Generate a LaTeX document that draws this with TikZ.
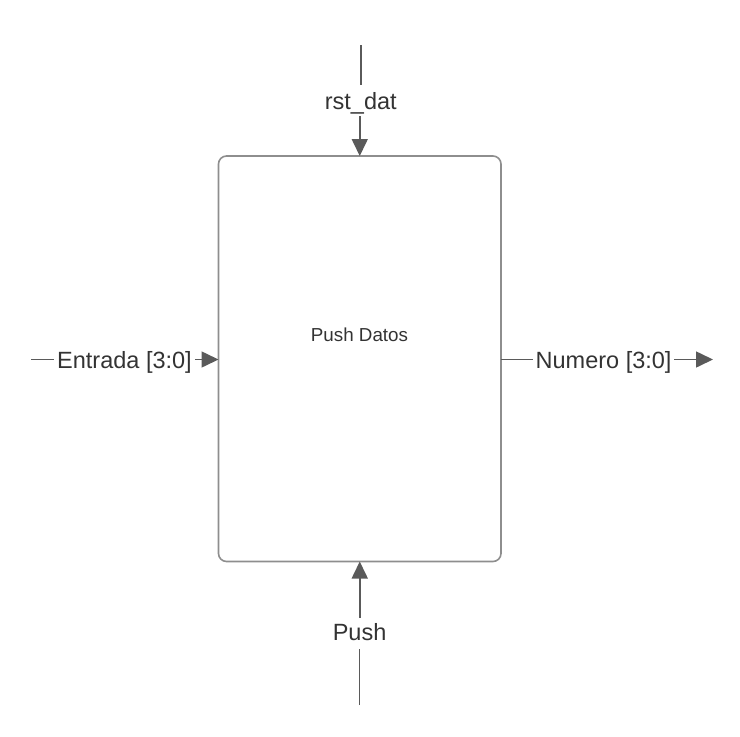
\documentclass[tikz,border=0pt]{standalone}
\usepackage{fontspec}
\setmainfont{Liberation Sans}
\usetikzlibrary{arrows.meta}
\definecolor{txt}{HTML}{333333}
\definecolor{boxc}{HTML}{8E8E8E}
\definecolor{wire}{HTML}{5A5A5A}
\begin{document}
\begin{tikzpicture}[x=1pt,y=-1pt,
  lbl/.style={font=\fontsize{23.5}{28}\selectfont, text=txt, inner sep=0pt, text height=17pt, text depth=0pt},
  wireln/.style={draw=wire, line width=1.6pt},
  arr/.style={wireln, -{Triangle[length=17pt,width=16pt]}},
  blk/.style={draw=boxc, line width=1.6pt, rounded corners=8pt, outer sep=0pt, inner sep=0pt}]
\useasboundingbox (0,0) rectangle (740,737);
% block
\node[blk, minimum width=282.5pt, minimum height=405.5pt] (box) at (359.75,358.75) {};
\node[font=\fontsize{18.8}{22}\selectfont, text=txt, inner sep=0pt, anchor=base] (title) at (359.5,341.7) {Push Datos};
% top: rst_dat
\coordinate (rsttop) at (361,45);
\node[lbl, inner xsep=0pt, inner ysep=7pt, anchor=base] (rst) at (360.8,109) {rst\_dat};
\draw[wireln] (rsttop) -- (rsttop |- rst.north);
\draw[arr] (rst.south -| box.north) -- (box.north);
% bottom: Push
\coordinate (pushbot) at (359.5,705);
\node[lbl, text depth=4pt, inner xsep=0pt, inner ysep=5pt, anchor=base] (push) at (359.6,640) {Push};
\draw[wireln] (pushbot) -- (pushbot |- push.south);
\draw[arr] (push.north -| box.south) -- (box.south);
% left: Entrada
\coordinate (entin) at (31,359.5);
\node[lbl, inner xsep=3pt, anchor=base west] (ent) at (54,368) {Entrada [3:0]};
\draw[wireln] (entin) -- (ent.west);
\draw[arr] (ent.east) -- (ent.east -| box.west);
% right: Numero
\coordinate (numout) at (713,359.5);
\node[lbl, inner xsep=2.5pt, anchor=base west] (num) at (533,368) {Numero [3:0]};
\draw[wireln] (num.west -| box.east) -- (num.west);
\draw[arr] (num.east) -- (numout);
\end{tikzpicture}
\end{document}
